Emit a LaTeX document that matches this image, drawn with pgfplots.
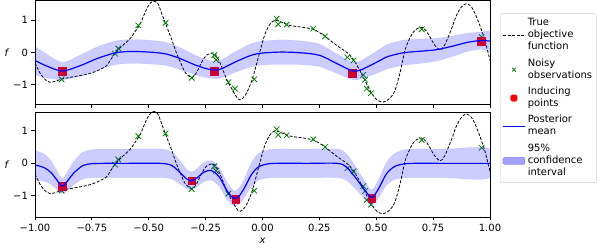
\documentclass[border=0pt]{standalone}
\usepackage{pgfplots}
\pgfplotsset{compat=1.18}
\usepackage{pgfplotstable}
\usepackage{fontspec}
\setmainfont{DejaVu Sans}
\definecolor{mplgreen}{RGB}{0,128,0}
\definecolor{mplred}{RGB}{255,0,0}
\definecolor{mplblue}{RGB}{0,0,255}

\pgfplotstableread{
x y
-1.000 -0.33
-0.975 -0.68
-0.950 -0.88
-0.934 -0.93
-0.910 -0.90
-0.883 -0.83
-0.840 -0.77
-0.800 -0.72
-0.760 -0.66
-0.729 -0.58
-0.705 -0.50
-0.685 -0.41
-0.665 -0.20
-0.648 -0.03
-0.620 0.18
-0.582 0.43
-0.555 0.70
-0.538 0.88
-0.520 1.18
-0.502 1.45
-0.481 1.60
-0.460 1.52
-0.445 1.25
-0.429 0.95
-0.400 0.42
-0.377 -0.04
-0.355 -0.40
-0.340 -0.62
-0.311 -0.79
-0.290 -0.63
-0.267 -0.30
-0.245 -0.08
-0.216 -0.02
-0.195 -0.20
-0.179 -0.46
-0.155 -0.88
-0.135 -1.13
-0.115 -1.38
-0.099 -1.48
-0.075 -1.33
-0.047 -0.88
-0.020 -0.20
0.004 0.42
0.018 0.69
0.035 0.90
0.055 1.00
0.080 0.95
0.121 0.84
0.179 0.78
0.223 0.72
0.250 0.62
0.275 0.50
0.326 0.22
0.377 -0.04
0.407 -0.30
0.443 -0.77
0.473 -1.19
0.502 -1.47
0.531 -1.55
0.560 -1.43
0.582 -1.19
0.605 -0.62
0.626 0.06
0.645 0.40
0.663 0.63
0.680 0.74
0.700 0.78
0.718 0.68
0.736 0.48
0.755 0.25
0.780 0.08
0.800 0.22
0.830 0.72
0.853 1.16
0.875 1.42
0.897 1.52
0.920 1.40
0.941 1.10
0.960 0.75
0.978 0.37
1.000 -0.25
}\truefn

\pgfplotstableread{
x y
-0.883 -0.84
-0.648 -0.04
-0.634 0.12
-0.546 0.84
-0.426 0.92
-0.311 -0.79
-0.212 -0.09
-0.204 -0.23
-0.150 -0.93
-0.121 -1.13
-0.036 -0.84
0.062 1.05
0.069 0.875
0.106 0.865
0.223 0.74
0.275 0.50
0.373 -0.15
0.400 -0.25
0.443 -0.70
0.451 -0.85
0.458 -1.13
0.477 -1.27
0.700 0.72
0.963 0.48
}\obs

% posterior mean, top panel
\pgfplotstableread{
x m
-1.000 -0.25
-0.950 -0.42
-0.880 -0.58
-0.800 -0.41
-0.730 -0.20
-0.650 -0.02
-0.580 0.03
-0.500 0.01
-0.430 -0.04
-0.370 -0.17
-0.300 -0.38
-0.250 -0.50
-0.213 -0.55
-0.180 -0.51
-0.120 -0.30
-0.050 -0.09
0.000 -0.02
0.080 0.01
0.165 -0.01
0.250 -0.09
0.330 -0.36
0.396 -0.58
0.430 -0.55
0.470 -0.42
0.520 -0.24
0.550 -0.13
0.620 -0.01
0.700 0.04
0.770 0.09
0.850 0.22
0.905 0.32
0.963 0.37
1.000 0.35
}\meantop

% 95% band, top panel: upper edge left to right, then lower edge right to left
\pgfplotstableread{
x y
-1.000 0.19
-0.950 -0.05
-0.880 -0.31
-0.800 -0.08
-0.730 0.16
-0.650 0.35
-0.580 0.40
-0.500 0.38
-0.430 0.32
-0.370 0.17
-0.300 -0.07
-0.250 -0.22
-0.213 -0.28
-0.180 -0.23
-0.120 0.02
-0.050 0.27
0.000 0.35
0.080 0.39
0.165 0.36
0.250 0.26
0.330 -0.06
0.396 -0.31
0.430 -0.27
0.470 -0.10
0.520 0.12
0.550 0.25
0.620 0.38
0.700 0.42
0.770 0.44
0.850 0.53
0.905 0.60
0.963 0.64
1.000 0.64
1.000 0.06
0.963 0.10
0.905 0.04
0.850 -0.09
0.770 -0.26
0.700 -0.34
0.620 -0.40
0.550 -0.51
0.520 -0.60
0.470 -0.74
0.430 -0.83
0.396 -0.85
0.330 -0.66
0.250 -0.44
0.165 -0.38
0.080 -0.37
0.000 -0.39
-0.050 -0.45
-0.120 -0.62
-0.180 -0.79
-0.213 -0.82
-0.250 -0.78
-0.300 -0.69
-0.370 -0.51
-0.430 -0.40
-0.500 -0.36
-0.580 -0.34
-0.650 -0.39
-0.730 -0.56
-0.800 -0.74
-0.880 -0.85
-0.950 -0.79
-1.000 -0.69
}\bandtop

% posterior mean, bottom panel
\pgfplotstableread{
x m
-1.000 -0.05
-0.960 -0.13
-0.930 -0.28
-0.905 -0.50
-0.880 -0.70
-0.855 -0.52
-0.830 -0.30
-0.790 -0.07
-0.750 -0.01
-0.700 0.00
-0.600 0.00
-0.450 0.00
-0.400 -0.06
-0.360 -0.30
-0.335 -0.47
-0.311 -0.54
-0.285 -0.43
-0.260 -0.28
-0.225 -0.22
-0.190 -0.42
-0.160 -0.80
-0.135 -1.03
-0.120 -1.08
-0.100 -0.98
-0.075 -0.70
-0.050 -0.36
-0.020 -0.12
0.020 -0.02
0.060 0.00
0.200 0.00
0.330 0.00
0.370 -0.12
0.410 -0.45
0.445 -0.78
0.480 -1.05
0.510 -0.78
0.545 -0.32
0.580 -0.10
0.620 -0.02
0.660 0.00
0.800 0.00
1.000 0.00
}\meanbot

% 95% band, bottom panel
\pgfplotstableread{
x y
-1.000 0.39
-0.960 0.29
-0.930 0.08
-0.905 -0.21
-0.880 -0.47
-0.855 -0.23
-0.830 0.06
-0.790 0.34
-0.750 0.42
-0.700 0.44
-0.600 0.44
-0.450 0.44
-0.400 0.36
-0.360 0.05
-0.335 -0.17
-0.311 -0.27
-0.285 -0.15
-0.260 0.01
-0.225 0.08
-0.190 -0.13
-0.160 -0.53
-0.135 -0.79
-0.120 -0.85
-0.100 -0.73
-0.075 -0.40
-0.050 0.00
-0.020 0.29
0.020 0.41
0.060 0.44
0.200 0.44
0.330 0.44
0.370 0.29
0.410 -0.11
0.445 -0.50
0.480 -0.82
0.510 -0.50
0.545 0.03
0.580 0.30
0.620 0.41
0.660 0.44
0.800 0.44
1.000 0.44
1.000 -0.44
0.800 -0.44
0.660 -0.44
0.620 -0.45
0.580 -0.50
0.545 -0.67
0.510 -1.06
0.480 -1.28
0.445 -1.06
0.410 -0.79
0.370 -0.53
0.330 -0.44
0.200 -0.44
0.060 -0.44
0.020 -0.45
-0.020 -0.53
-0.050 -0.72
-0.075 -1.00
-0.100 -1.23
-0.120 -1.31
-0.135 -1.27
-0.160 -1.07
-0.190 -0.71
-0.225 -0.52
-0.260 -0.57
-0.285 -0.71
-0.311 -0.81
-0.335 -0.77
-0.360 -0.65
-0.400 -0.48
-0.450 -0.44
-0.600 -0.44
-0.700 -0.44
-0.750 -0.44
-0.790 -0.48
-0.830 -0.66
-0.855 -0.81
-0.880 -0.93
-0.905 -0.79
-0.930 -0.64
-0.960 -0.55
-1.000 -0.49
}\bandbot

\pgfplotsset{
  gpbase/.style={
    scale only axis, width=455bp,
    xmin=-1, xmax=1,
    xtick={-1,-0.75,-0.5,-0.25,0,0.25,0.5,0.75,1},
    ytick={-1,0,1}, yticklabels={−1,0,1},
    tick align=outside, tick pos=left,
    major tick length=3.5bp,
    axis line style={line width=0.8bp},
    every tick/.style={black, line width=0.8bp},
    tick label style={font=\fontsize{10bp}{12bp}\selectfont},
    every axis y label/.style={at={(rel axis cs:0,0.5)}, anchor=center, xshift=-28bp, font=\fontsize{10bp}{12bp}\selectfont},
    xlabel style={font=\fontsize{10bp}{12bp}\selectfont},
    ylabel={\textit{f}},
    clip=true, clip marker paths=true,
  },
  truestyle/.style={black, line width=0.8bp, dash pattern=on 3bp off 1.6bp, smooth, tension=0.5},
  obsstyle/.style={only marks, mark=x, mark size=3.9bp, mplgreen, mark options={line width=0.8bp}},
  indstyle/.style={only marks, mark=square*, mark size=3.9bp, mplred, mark options={draw=none}},
  meanstyle/.style={mplblue, line width=1.2bp, smooth},
  bandstyle/.style={fill=mplblue, fill opacity=0.2, draw=mplblue, draw opacity=0.08, line width=0.5bp, smooth, tension=0.5},
  truelegend/.style={legend image code/.code={\draw[black, line width=0.8bp, dash pattern=on 3bp off 1.6bp] (0bp,0bp) -- (22bp,0bp);}},
  meanlegend/.style={legend image code/.code={\draw[mplblue, line width=1.4bp] (0bp,0bp) -- (22bp,0bp);}},
  marklegend/.style={legend image code/.code={\draw[mplgreen, line width=0.8bp] plot[mark=x, mark size=2.6bp] coordinates {(11bp,0bp)};}},
  sqlegend/.style={legend image code/.code={\fill[mplred] (7.8bp,-3.2bp) rectangle (14.2bp,3.2bp);}},
  bandlegend/.style={legend image code/.code={\fill[mplblue, fill opacity=0.2] (0bp,-3.5bp) rectangle (22bp,3.5bp); \draw[mplblue, draw opacity=0.25, line width=0.6bp] (0bp,-3.5bp) rectangle (22bp,3.5bp);}},
}

\begin{document}
\fontsize{10bp}{12bp}\selectfont
\begin{tikzpicture}
\path (0,0) rectangle (610bp,242bp);
\begin{axis}[gpbase,
  at={(35bp,137.6bp)}, anchor=south west, height=104bp,
  ymin=-1.62, ymax=1.62,
  xticklabels={},
  legend cell align=left,
  legend style={at={(1.022,0.875)}, anchor=north west,
    draw=black!20, rounded corners=2bp, inner xsep=2bp, inner ysep=1.5bp,
    font=\fontsize{10bp}{12bp}\selectfont,
    nodes={inner sep=2.2bp, text depth=}},
]
\addplot[truestyle, truelegend] table[x=x,y=y] {\truefn};
\addlegendentry{\begin{tabular}{@{}l@{}}True\\objective\\function\end{tabular}}
\addplot[obsstyle, marklegend] table[x=x,y=y] {\obs};
\addlegendentry{\begin{tabular}{@{}l@{}}Noisy\\observations\end{tabular}}
\addplot[indstyle, sqlegend] coordinates {(-0.880,-0.58) (-0.213,-0.58) (0.396,-0.65) (0.963,0.35)};
\addlegendentry{\begin{tabular}{@{}l@{}}Inducing\\points\end{tabular}}
\addplot[meanstyle, meanlegend] table[x=x,y=m] {\meantop};
\addlegendentry{\begin{tabular}{@{}l@{}}Posterior\\mean\end{tabular}}
\addplot[bandstyle, bandlegend] table[x=x,y=y] {\bandtop};
\addlegendentry{\begin{tabular}{@{}l@{}}95\%\\confidence\\interval\end{tabular}}
\end{axis}

\begin{axis}[gpbase,
  at={(35bp,25bp)}, anchor=south west, height=105bp,
  ymin=-1.65, ymax=1.58,
  xticklabels={−1.00,−0.75,−0.50,−0.25,0.00,0.25,0.50,0.75,1.00},
  xlabel={\textit{x}},
]
\addplot[truestyle] table[x=x,y=y] {\truefn};
\addplot[obsstyle] table[x=x,y=y] {\obs};
\addplot[indstyle] coordinates {(-0.880,-0.70) (-0.311,-0.535) (-0.118,-1.10) (0.480,-1.08)};
\addplot[meanstyle] table[x=x,y=m] {\meanbot};
\addplot[bandstyle] table[x=x,y=y] {\bandbot};
\end{axis}
\end{tikzpicture}
\end{document}
